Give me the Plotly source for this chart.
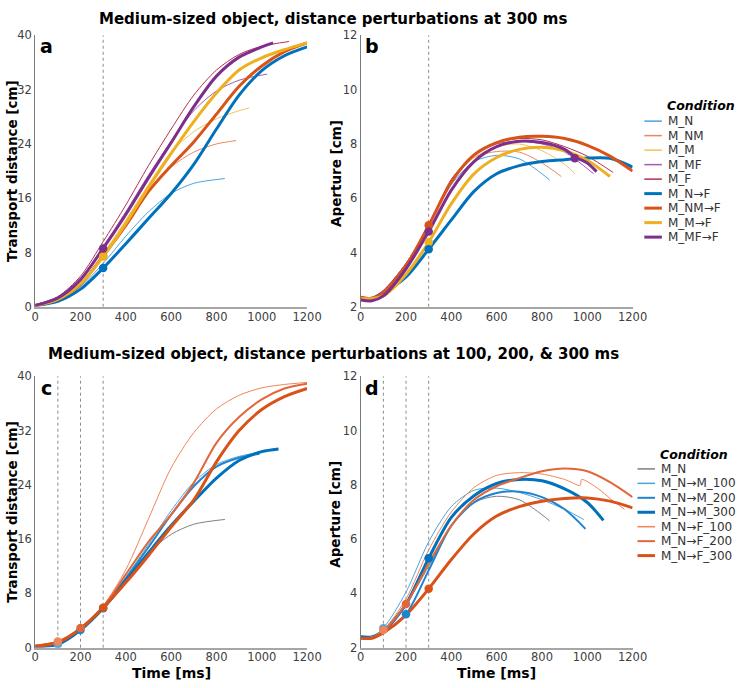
import plotly.graph_objects as go

FONT = "DejaVu Sans"
W, H = 748, 688

# ---------------- shared tick labels ----------------
X_TICKS = [0, 200, 400, 600, 800, 1000, 1200]
TRANSPORT_TICKS = [0, 8, 16, 24, 32, 40]
APERTURE_TICKS = [2, 4, 6, 8, 10, 12]

# ---------------- top row: perturbation at 300 ms ----------------
top_names = ["M_N", "M_NM", "M_M", "M_MF", "M_F", "M_N→F", "M_NM→F", "M_M→F", "M_MF→F"]
top_colors = ["#4da3df", "#ec8660", "#f4c35a", "#a45bb5", "#b2324f",
              "#0072BD", "#D95319", "#EDB120", "#7E2F8E"]
top_widths = [1, 1, 1, 1, 1, 3, 3, 3, 3]

# panel a: transport distance [cm]
a_t_M_N = [0, 100, 200, 300, 400, 500, 600, 700, 837]
a_y_M_N = [0.2, 1.0, 3.0, 6.4, 10.4, 14.0, 16.7, 18.2, 18.9]
a_t_M_NM = [0, 100, 200, 300, 400, 500, 600, 700, 800, 887]
a_y_M_NM = [0.2, 1.1, 3.4, 7.6, 12.3, 17.0, 20.6, 22.8, 24.0, 24.5]
a_t_M_M = [0, 100, 200, 300, 400, 500, 600, 700, 800, 900, 945]
a_y_M_M = [0.2, 1.1, 3.5, 7.8, 12.8, 18.0, 22.8, 25.8, 27.7, 28.9, 29.3]
a_t_M_MF = [0, 100, 200, 300, 400, 500, 600, 700, 800, 900, 1024]
a_y_M_MF = [0.3, 1.4, 4.2, 8.9, 14.0, 19.4, 24.4, 28.9, 31.8, 33.4, 34.3]
a_t_M_F = [0, 100, 200, 300, 400, 500, 600, 700, 800, 900, 1000, 1120]
a_y_M_F = [0.3, 1.5, 4.5, 9.6, 15.0, 20.8, 26.2, 31.2, 34.9, 37.2, 38.4, 39.1]
a_t_M_N_F = [0, 100, 200, 300, 400, 500, 600, 700, 800, 900, 1000, 1100, 1200]
a_y_M_N_F = [0.2, 0.8, 2.6, 5.7, 9.3, 13.0, 16.7, 21.0, 26.2, 31.2, 34.8, 37.0, 38.3]
a_t_M_NM_F = [0, 100, 200, 300, 400, 500, 600, 700, 800, 900, 1000, 1100, 1200]
a_y_M_NM_F = [0.2, 1.1, 3.3, 7.5, 12.0, 17.0, 20.8, 24.3, 28.4, 32.5, 35.5, 37.6, 38.9]
a_t_M_M_F = [0, 100, 200, 300, 400, 500, 600, 700, 800, 900, 1000, 1100, 1200]
a_y_M_M_F = [0.2, 1.1, 3.4, 7.4, 12.3, 17.6, 22.6, 27.3, 31.5, 34.9, 36.7, 37.9, 38.9]
a_t_M_MF_F = [0, 100, 200, 300, 400, 500, 600, 700, 800, 900, 1000, 1050]
a_y_M_MF_F = [0.2, 1.3, 4.0, 8.6, 13.6, 19.0, 24.2, 29.5, 34.0, 36.8, 38.3, 38.9]
# perturbation markers (panel a): condition index, time, value
a_mark_idx = [6, 7, 5, 8]
a_mark_t = [300, 300, 300, 300]
a_mark_y = [7.5, 7.4, 5.7, 8.6]

# panel b: aperture [cm]
b_t_M_N = [0, 50, 100, 200, 300, 400, 500, 600, 700, 800, 834]
b_y_M_N = [2.35, 2.35, 2.6, 3.6, 5.0, 6.5, 7.35, 7.58, 7.45, 6.9, 6.67]
b_t_M_NM = [0, 50, 100, 200, 300, 400, 500, 600, 700, 800, 885]
b_y_M_NM = [2.35, 2.35, 2.6, 3.6, 5.0, 6.6, 7.5, 7.72, 7.7, 7.3, 6.8]
b_t_M_M = [0, 50, 100, 200, 300, 400, 500, 600, 700, 800, 900, 946]
b_y_M_M = [2.35, 2.35, 2.6, 3.6, 5.0, 6.6, 7.5, 7.9, 8.0, 7.75, 7.25, 6.9]
b_t_M_MF = [0, 50, 100, 200, 300, 400, 500, 600, 700, 800, 900, 1028]
b_y_M_MF = [2.3, 2.3, 2.55, 3.55, 5.0, 6.6, 7.55, 8.0, 8.1, 8.0, 7.7, 6.9]
b_t_M_F = [0, 50, 100, 200, 300, 400, 500, 600, 700, 800, 900, 1000, 1114]
b_y_M_F = [2.35, 2.35, 2.6, 3.6, 5.0, 6.7, 7.6, 8.05, 8.2, 8.15, 7.9, 7.55, 6.95]
b_t_M_N_F = [0, 50, 100, 200, 300, 400, 500, 600, 700, 800, 900, 1000, 1100, 1200]
b_y_M_N_F = [2.3, 2.3, 2.5, 3.1, 4.12, 5.2, 6.25, 6.9, 7.2, 7.35, 7.42, 7.48, 7.47, 7.15]
b_t_M_NM_F = [0, 50, 100, 200, 300, 400, 500, 600, 700, 800, 900, 1000, 1100, 1200]
b_y_M_NM_F = [2.35, 2.3, 2.5, 3.5, 5.0, 6.6, 7.6, 8.05, 8.25, 8.28, 8.2, 7.95, 7.55, 7.0]
b_t_M_M_F = [0, 50, 100, 200, 300, 400, 500, 600, 700, 800, 900, 1000, 1100]
b_y_M_M_F = [2.3, 2.3, 2.4, 3.2, 4.38, 5.8, 6.9, 7.5, 7.8, 7.88, 7.75, 7.4, 6.8]
b_t_M_MF_F = [0, 50, 100, 200, 300, 400, 500, 600, 700, 800, 900, 950, 1000, 1041]
b_y_M_MF_F = [2.25, 2.22, 2.4, 3.4, 4.77, 6.3, 7.35, 7.9, 8.1, 8.05, 7.8, 7.5, 7.3, 6.98]
b_mark_idx = [6, 7, 5, 8, 8]
b_mark_t = [300, 300, 300, 300, 945]
b_mark_y = [5.0, 4.38, 4.12, 4.77, 7.47]

# ---------------- bottom row: perturbations at 100, 200, 300 ms ----------------
bot_names = ["M_N", "M_N→M_100", "M_N→M_200", "M_N→M_300", "M_N→F_100", "M_N→F_200", "M_N→F_300"]
bot_colors = ["#7f7f7f", "#4da3df", "#1f84cf", "#0072BD", "#f0845a", "#e2663a", "#D95319"]
bot_widths = [1, 1, 2, 3, 1, 2, 3]

# panel c: transport distance [cm]
c_t_M_N = [0, 100, 200, 300, 400, 500, 600, 700, 837]
c_y_M_N = [0.2, 0.8, 2.7, 6.0, 10.1, 14.0, 16.7, 18.2, 18.9]
c_t_M_100 = [0, 100, 200, 300, 400, 500, 600, 700, 800, 900, 990]
c_y_M_100 = [0.2, 0.6, 2.6, 6.0, 10.4, 15.2, 20.2, 24.4, 27.0, 28.2, 28.8]
c_t_M_200 = [0, 100, 200, 300, 400, 500, 600, 700, 800, 900, 990]
c_y_M_200 = [0.2, 0.5, 2.6, 5.9, 10.2, 14.8, 19.6, 23.8, 26.7, 28.0, 28.6]
c_t_M_300 = [0, 100, 200, 300, 400, 500, 600, 700, 800, 900, 1000, 1074]
c_y_M_300 = [0.2, 0.5, 2.6, 5.8, 9.9, 14.0, 18.0, 21.6, 25.0, 27.6, 28.9, 29.3]
c_t_F_100 = [0, 100, 200, 300, 400, 500, 600, 700, 800, 900, 1000, 1100, 1200]
c_y_F_100 = [0.3, 0.9, 2.9, 6.2, 11.5, 19.0, 26.5, 31.7, 35.2, 37.2, 38.3, 38.8, 39.1]
c_t_F_200 = [0, 100, 200, 300, 400, 500, 600, 700, 800, 900, 1000, 1100, 1200]
c_y_F_200 = [0.3, 0.9, 2.9, 6.0, 10.8, 15.6, 19.6, 24.3, 30.2, 34.0, 36.6, 38.2, 38.9]
c_t_F_300 = [0, 100, 200, 300, 400, 500, 600, 700, 800, 900, 1000, 1100, 1200]
c_y_F_300 = [0.2, 0.8, 2.8, 5.9, 9.6, 13.6, 17.8, 21.8, 27.4, 32.0, 35.1, 37.0, 38.2]
c_mark_idx = [1, 2, 3, 4, 5, 6]
c_mark_t = [100, 200, 300, 100, 200, 300]
c_mark_y = [0.5, 2.6, 5.8, 0.9, 2.9, 5.9]

# panel d: aperture [cm]
d_t_M_N = [0, 50, 100, 200, 300, 400, 500, 600, 700, 800, 834]
d_y_M_N = [2.35, 2.35, 2.6, 3.6, 5.0, 6.5, 7.35, 7.58, 7.45, 6.9, 6.67]
d_t_M_100 = [0, 50, 100, 200, 300, 400, 500, 600, 700, 800, 900, 985]
d_y_M_100 = [2.35, 2.4, 2.72, 4.05, 5.9, 7.2, 7.8, 7.88, 7.72, 7.45, 7.1, 6.72]
d_t_M_200 = [0, 50, 100, 200, 300, 400, 500, 600, 700, 800, 900, 992]
d_y_M_200 = [2.4, 2.4, 2.55, 3.23, 4.85, 6.5, 7.35, 7.7, 7.75, 7.55, 7.1, 6.38]
d_t_M_300 = [0, 50, 100, 200, 300, 400, 500, 600, 700, 800, 900, 1000, 1071]
d_y_M_300 = [2.4, 2.4, 2.6, 3.6, 5.3, 6.8, 7.6, 8.05, 8.2, 8.15, 7.85, 7.35, 6.69]
d_t_F_100 = [0, 50, 100, 200, 300, 400, 500, 600, 700, 800, 900, 968, 975, 1050, 1100, 1164]
d_y_F_100 = [2.35, 2.4, 2.65, 3.8, 5.6, 7.0, 7.9, 8.35, 8.45, 8.4, 8.2, 7.98, 8.2, 7.85, 7.5, 7.1]
d_t_F_200 = [0, 50, 100, 200, 300, 400, 500, 600, 700, 800, 900, 1000, 1100, 1200]
d_y_F_200 = [2.35, 2.35, 2.6, 3.61, 5.1, 6.5, 7.45, 7.95, 8.25, 8.5, 8.6, 8.5, 8.1, 7.55]
d_t_F_300 = [0, 50, 100, 200, 300, 400, 500, 600, 700, 800, 900, 1000, 1100, 1200]
d_y_F_300 = [2.35, 2.35, 2.55, 3.2, 4.17, 5.25, 6.2, 6.85, 7.2, 7.4, 7.5, 7.52, 7.4, 7.15]
d_mark_idx = [1, 2, 3, 4, 5, 6]
d_mark_t = [100, 200, 300, 100, 200, 300]
d_mark_y = [2.72, 3.23, 5.3, 2.65, 3.61, 4.17]

TOP_PERTURB = [300]
BOT_PERTURB = [100, 200, 300]


def fx(p):
    """page pixel x -> paper x"""
    return p / W


def fy(p):
    """page pixel y -> paper y"""
    return 1 - p / H


# ---------------- figure ----------------
fig = go.Figure()


def add_lines(series, colors, widths, xa, ya):
    for i, (t, y) in enumerate(series):
        fig.add_trace(go.Scatter(
            x=t, y=y, mode="lines", xaxis=xa, yaxis=ya,
            line=dict(color=colors[i], width=widths[i], shape="spline", smoothing=0.8),
            hoverinfo="skip", showlegend=False))


def add_marks(idx, t, y, colors, xa, ya):
    for i, tt, yy in zip(idx, t, y):
        fig.add_trace(go.Scatter(
            x=[tt], y=[yy], mode="markers", xaxis=xa, yaxis=ya,
            marker=dict(size=8.5, color=colors[i]),
            hoverinfo="skip", showlegend=False))


a_series = [(a_t_M_N, a_y_M_N), (a_t_M_NM, a_y_M_NM), (a_t_M_M, a_y_M_M), (a_t_M_MF, a_y_M_MF),
            (a_t_M_F, a_y_M_F), (a_t_M_N_F, a_y_M_N_F), (a_t_M_NM_F, a_y_M_NM_F),
            (a_t_M_M_F, a_y_M_M_F), (a_t_M_MF_F, a_y_M_MF_F)]
b_series = [(b_t_M_N, b_y_M_N), (b_t_M_NM, b_y_M_NM), (b_t_M_M, b_y_M_M), (b_t_M_MF, b_y_M_MF),
            (b_t_M_F, b_y_M_F), (b_t_M_N_F, b_y_M_N_F), (b_t_M_NM_F, b_y_M_NM_F),
            (b_t_M_M_F, b_y_M_M_F), (b_t_M_MF_F, b_y_M_MF_F)]
c_series = [(c_t_M_N, c_y_M_N), (c_t_M_100, c_y_M_100), (c_t_M_200, c_y_M_200), (c_t_M_300, c_y_M_300),
            (c_t_F_100, c_y_F_100), (c_t_F_200, c_y_F_200), (c_t_F_300, c_y_F_300)]
d_series = [(d_t_M_N, d_y_M_N), (d_t_M_100, d_y_M_100), (d_t_M_200, d_y_M_200), (d_t_M_300, d_y_M_300),
            (d_t_F_100, d_y_F_100), (d_t_F_200, d_y_F_200), (d_t_F_300, d_y_F_300)]

add_lines(a_series, top_colors, top_widths, "x", "y")
add_marks(a_mark_idx, a_mark_t, a_mark_y, top_colors, "x", "y")
add_lines(b_series, top_colors, top_widths, "x2", "y2")
add_marks(b_mark_idx, b_mark_t, b_mark_y, top_colors, "x2", "y2")
add_lines(c_series, bot_colors, bot_widths, "x3", "y3")
add_marks(c_mark_idx, c_mark_t, c_mark_y, bot_colors, "x3", "y3")
add_lines(d_series, bot_colors, bot_widths, "x4", "y4")
add_marks(d_mark_idx, d_mark_t, d_mark_y, bot_colors, "x4", "y4")

# ---------------- axes ----------------
XA = [fx(32), fx(311)]
XB = [fx(366), fx(645)]
YT = [fy(306), fy(29)]
YB = [fy(654), fy(377)]

tickfont = dict(family=FONT, size=11.5, color="#404040")
xcommon = dict(range=[0, 1200], tickvals=X_TICKS, showgrid=False, zeroline=False, showline=True,
               linecolor="#a6a6a6", linewidth=2, ticks="", tickfont=tickfont, fixedrange=True,
               ticklabelstandoff=-2)
ycommon = dict(showgrid=False, zeroline=False, showline=True, linecolor="#7a7a7a", linewidth=1,
               ticks="", tickfont=tickfont, fixedrange=True)

fig.update_layout(
    xaxis=dict(domain=XA, anchor="y", **xcommon),
    yaxis=dict(domain=YT, anchor="x", range=[0, 40], tickvals=TRANSPORT_TICKS, **ycommon),
    xaxis2=dict(domain=XB, anchor="y2", **xcommon),
    yaxis2=dict(domain=YT, anchor="x2", range=[2, 12], tickvals=APERTURE_TICKS, **ycommon),
    xaxis3=dict(domain=XA, anchor="y3", **xcommon),
    yaxis3=dict(domain=YB, anchor="x3", range=[0, 40], tickvals=TRANSPORT_TICKS, **ycommon),
    xaxis4=dict(domain=XB, anchor="y4", **xcommon),
    yaxis4=dict(domain=YB, anchor="x4", range=[2, 12], tickvals=APERTURE_TICKS, **ycommon),
)

# perturbation onset lines
shapes = []
for xr, yr, times in [("x", "y", TOP_PERTURB), ("x2", "y2", TOP_PERTURB),
                      ("x3", "y3", BOT_PERTURB), ("x4", "y4", BOT_PERTURB)]:
    for tt in times:
        shapes.append(dict(type="line", xref=xr, yref=yr + " domain", x0=tt, x1=tt, y0=0, y1=1,
                           line=dict(color="#8c8c8c", width=1, dash="dot"), layer="below"))

annotations = []


def ann(text, x, y, size, color="black", xanchor="center", yanchor="middle", angle=0):
    annotations.append(dict(text=text, x=fx(x), y=fy(y), xref="paper", yref="paper",
                            showarrow=False, xanchor=xanchor, yanchor=yanchor, textangle=angle,
                            font=dict(family=FONT, size=size, color=color)))


# titles
ann("<b>Medium-sized object, distance perturbations at 300 ms</b>", 337.5, 12, 15)
ann("<b>Medium-sized object, distance perturbations at 100, 200, &amp; 300 ms</b>", 338, 354, 15)
# panel letters
ann("<b>a</b>", 44, 40, 19)
ann("<b>b</b>", 378, 40, 19)
ann("<b>c</b>", 44, 389, 19)
ann("<b>d</b>", 378, 389, 19)
# axis titles
ann("<b>Transport distance [cm]</b>", 8, 167.5, 13.5, angle=-90)
ann("<b>Aperture [cm]</b>", 340, 170, 13.5, angle=-90)
ann("<b>Transport distance [cm]</b>", 8, 515.5, 13.5, angle=-90)
ann("<b>Aperture [cm]</b>", 340, 518, 13.5, angle=-90)
ann("<b>Time [ms]</b>", 171.5, 680, 14)
ann("<b>Time [ms]</b>", 505.5, 680, 14)


# legends
def legend(names, colors, widths, title_y, line_x0, line_x1, text_x, first_y, step):
    ann("<b><i>Condition</i></b>", text_x - 1, title_y, 12.5, xanchor="left")
    for i, name in enumerate(names):
        yy = first_y + i * step
        shapes.append(dict(type="line", xref="paper", yref="paper", x0=fx(line_x0), x1=fx(line_x1),
                           y0=fy(yy), y1=fy(yy),
                           line=dict(color=colors[i], width=1.5 if widths[i] == 1 else widths[i])))
        ann(name, text_x, yy, 12, color="#333333", xanchor="left")


legend(top_names, top_colors, top_widths, 101, 657, 675, 679, 116.5, 14.8)
legend(bot_names, bot_colors, bot_widths, 456.5, 650, 668, 672, 471.5, 14.75)

fig.update_layout(
    width=W, height=H, margin=dict(l=0, r=0, t=0, b=0),
    paper_bgcolor="white", plot_bgcolor="white", showlegend=False,
    shapes=shapes, annotations=annotations,
    font=dict(family=FONT),
)

# remove the browser's default 8 px page margin so the figure sits at the window origin
fig.write_html("out.html", config={"displayModeBar": False},
               post_script="document.body.style.margin='0';")
